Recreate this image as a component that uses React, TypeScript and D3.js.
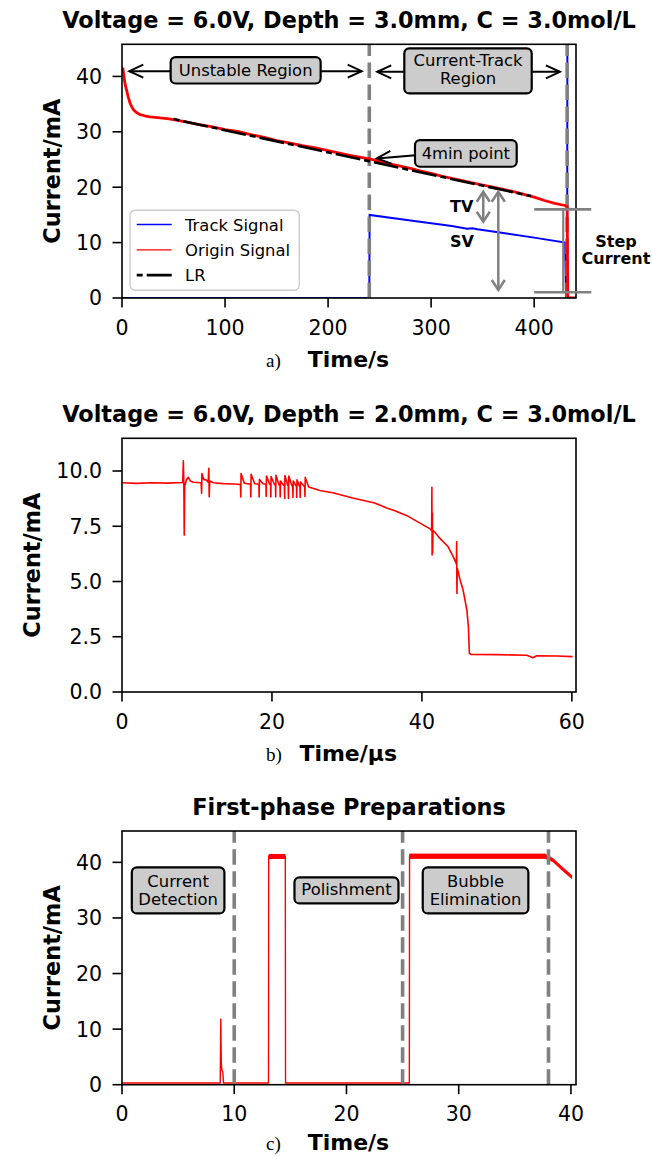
import React from 'react';
import * as d3 from 'd3';

type Pt = [number, number];
type Band = [number, number, number];

// ---------- panel a : Voltage = 6.0V, Depth = 3.0mm ----------
const aTrack: Pt[] = [
  [0, 0], [240, 0], [240.3, 15.0], [280, 14.0], [320, 13.0], [335, 12.5], [340, 12.6],
  [345, 12.4], [360, 12.0], [400, 10.9], [430, 10.0], [431, 0], [432, 0], [432.3, 60],
];
const aOrigin: Pt[] = [
  [0.8, 41.6], [1.5, 40.6], [2.5, 39.2], [3.5, 38.2], [4.5, 37.5], [6, 36.3], [7.8, 35.2],
  [9.5, 34.5], [11, 34.0], [14, 33.5], [17.5, 33.1], [22, 32.9], [27, 32.7], [32, 32.6],
  [37, 32.5], [44, 32.4], [50, 32.2], [62, 31.8], [75, 31.3], [88, 30.9], [100, 30.4],
  [112, 30.1], [125, 29.5], [138, 29.0], [150, 28.4], [162, 28.0], [175, 27.5], [188, 27.1],
  [200, 26.6], [212, 26.1], [225, 25.6], [240, 25.1], [250, 24.7], [260, 24.2], [270, 23.8],
  [280, 23.4], [290, 22.9], [300, 22.5], [310, 22.0], [320, 21.6], [330, 21.2], [340, 20.8],
  [350, 20.4], [360, 20.0], [370, 19.6], [380, 19.2], [390, 18.7], [400, 18.2], [410, 17.6],
  [420, 17.1], [430, 16.7], [432, 16.5], [432.6, 0], [441, 0],
];
const aLR: Pt[] = [[50, 32.3], [397, 18.4]];
const aMarkers = [240, 432];
const aXTicks = [0, 100, 200, 300, 400];
const aYTicks = [0, 10, 20, 30, 40];
const aLegend = ['Track Signal', 'Origin Signal', 'LR'];

// ---------- panel b : Voltage = 6.0V, Depth = 2.0mm ----------
const bSignal: Pt[] = [
  [0, 9.47], [2, 9.44], [4, 9.47], [6, 9.45], [8.1, 9.48], [8.18, 10.46], [8.25, 9.4], [8.3, 7.1],
  [8.36, 9.3], [8.6, 9.62], [8.85, 9.71], [9.1, 9.55], [9.5, 9.49], [10.55, 9.47], [10.62, 8.99],
  [10.66, 9.89], [10.9, 9.62], [11.2, 9.6], [11.5, 9.5], [11.58, 10.12], [11.63, 8.83], [11.7, 9.55],
  [12.2, 9.47], [13.5, 9.43], [15, 9.41], [15.8, 9.39], [15.84, 8.83], [15.88, 9.89], [16.3, 9.45],
  [17.15, 9.4], [17.18, 8.83], [17.22, 9.85], [17.7, 9.42], [18.26, 9.4], [18.29, 8.83], [18.33, 9.62],
  [18.8, 9.42], [19.2, 9.4], [19.23, 8.85], [19.27, 9.77], [19.7, 9.4], [19.82, 9.38], [19.85, 8.83],
  [19.88, 9.75], [20.35, 9.38], [20.47, 9.37], [20.5, 8.83], [20.53, 9.81], [20.95, 9.37], [21.07, 9.36],
  [21.1, 8.83], [21.13, 9.55], [21.55, 9.36], [21.66, 9.35], [21.7, 8.76], [21.73, 9.8], [22.1, 9.35],
  [22.17, 9.34], [22.2, 8.76], [22.24, 9.77], [22.65, 9.34], [22.77, 9.34], [22.8, 8.8], [22.84, 9.55],
  [23.2, 9.33], [23.27, 9.33], [23.3, 8.8], [23.34, 9.6], [23.65, 9.32], [23.73, 9.32], [23.76, 8.8],
  [23.8, 9.5], [24.3, 9.31], [24.37, 9.31], [24.4, 8.85], [24.44, 9.71], [24.9, 9.28], [26.4, 9.12],
  [28.1, 9.02], [30.9, 8.77], [33.7, 8.55], [35.3, 8.33], [36.4, 8.2], [38, 7.98], [39.8, 7.63],
  [41.1, 7.38], [41.3, 7.3], [41.33, 9.26], [41.36, 6.2], [41.4, 8.1], [41.43, 6.3], [41.47, 7.3],
  [41.76, 7.22], [42.4, 6.95], [43.5, 6.57], [44.2, 6.1], [44.6, 5.8], [44.63, 6.8], [44.67, 4.46],
  [44.72, 5.6], [45.1, 5.06], [45.5, 4.6], [46.0, 3.7], [46.2, 2.94], [46.33, 1.74], [46.6, 1.7],
  [50, 1.69], [54, 1.66], [54.8, 1.55], [55.3, 1.64], [58, 1.63], [60.1, 1.6],
];
const bXTicks = [0, 20, 40, 60];
const bYTicks = [0, 2.5, 5, 7.5, 10];

// ---------- panel c : First-phase Preparations ----------
const cSignal: Pt[] = [
  [0, 0.3], [6, 0.3], [8.75, 0.3], [8.8, 11.9], [8.85, 4.0], [8.9, 2.6], [8.98, 2.3], [9.05, 0.3],
  [13.05, 0.3], [13.07, 41.1], [14.55, 41.1], [14.57, 0.3], [25.6, 0.3], [25.62, 41.1], [37.7, 41.1],
  [38.4, 40.4], [39.2, 38.9], [40.06, 37.4],
];
// visible noise envelope (t, low, high) on the high plateaus
const cPolishBand: Band[] = [[13.07, 40.6, 41.5], [14.55, 40.6, 41.5]];
const cBubbleBand: Band[] = [[25.62, 40.7, 41.5], [37.7, 40.7, 41.5], [38.4, 40.1, 40.7], [39.2, 38.6, 39.2], [40.06, 37.1, 37.7]];
const cMarkers = [10, 25, 38];
const cXTicks = [0, 10, 20, 30, 40];
const cYTicks = [0, 10, 20, 30, 40];

const FONT = "'DejaVu Sans', Verdana, sans-serif";
const SERIF = "'Liberation Serif', 'DejaVu Serif', serif";
const GRAY = '#808080';
const BOXFILL = '#cccccc';
const LEFT = 122;
const RIGHT = 576;
const PH = 253.7;

type Scale = d3.ScaleLinear<number, number>;

const linePath = (x: Scale, y: Scale, pts: Pt[]) =>
  d3.line<Pt>().x(d => x(d[0])).y(d => y(d[1]))(pts) || '';

const bandPath = (x: Scale, y: Scale, pts: Band[]) =>
  d3.area<Band>().x(d => x(d[0])).y0(d => y(d[1])).y1(d => y(d[2]))(pts) || '';

function Arrow({ x1, y1, x2, y2, color = '#000', width = 2, head = 14, half = 6.5, both = false }:
  { x1: number; y1: number; x2: number; y2: number; color?: string; width?: number; head?: number; half?: number; both?: boolean }) {
  const len = Math.hypot(x2 - x1, y2 - y1);
  const ux = (x2 - x1) / len, uy = (y2 - y1) / len;
  const nx = -uy, ny = ux;
  const tip = (tx: number, ty: number, s: number) =>
    `M${tx - s * ux * head + nx * half},${ty - s * uy * head + ny * half}L${tx},${ty}L${tx - s * ux * head - nx * half},${ty - s * uy * head - ny * half}`;
  return (
    <g fill="none" stroke={color} strokeWidth={width} strokeLinejoin="miter">
      <line x1={x1} y1={y1} x2={x2} y2={y2} />
      <path d={tip(x2, y2, 1)} />
      {both && <path d={tip(x1, y1, -1)} />}
    </g>
  );
}

function Callout({ cx, cy, w, h, lines, offsets }: { cx: number; cy: number; w: number; h: number; lines: string[]; offsets: number[] }) {
  return (
    <g>
      <rect x={cx - w / 2} y={cy - h / 2} width={w} height={h} rx={5} fill={BOXFILL} stroke="#000" strokeWidth={2.2} />
      {lines.map((l, i) => (
        <text key={l} x={cx} y={cy + offsets[i]} textAnchor="middle" fontFamily={FONT} fontSize={16.4}>{l}</text>
      ))}
    </g>
  );
}

interface PanelProps {
  id: string;
  top: number;
  xDomain: [number, number];
  yDomain: [number, number];
  xTicks: number[];
  yTicks: number[];
  yFmt: (v: number) => string;
  title: string;
  tag: string;
  xLabel: string;
  xLabelStart: number;
  xLabelDy?: number;
  yLabelX: number;
  plot: (x: Scale, y: Scale) => React.ReactNode;
  overlay?: (x: Scale, y: Scale) => React.ReactNode;
}

function Panel(p: PanelProps) {
  const bottom = p.top + PH;
  const x = d3.scaleLinear().domain(p.xDomain).range([LEFT, RIGHT]);
  const y = d3.scaleLinear().domain(p.yDomain).range([bottom, p.top]);
  const labelY = bottom + (p.xLabelDy ?? 68.8);
  return (
    <g>
      <defs>
        <clipPath id={p.id}><rect x={LEFT} y={p.top} width={RIGHT - LEFT} height={PH} /></clipPath>
      </defs>
      <text x={(LEFT + RIGHT) / 2} y={p.top - 16.5} textAnchor="middle" fontFamily={FONT} fontWeight="bold" fontSize={22.4}>{p.title}</text>
      <g clipPath={`url(#${p.id})`}>{p.plot(x, y)}</g>
      <rect x={LEFT} y={p.top} width={RIGHT - LEFT} height={PH} fill="none" stroke="#000" strokeWidth={1.6} />
      {p.xTicks.map(t => (
        <g key={'x' + t}>
          <line x1={x(t)} x2={x(t)} y1={bottom} y2={bottom + 9.5} stroke="#000" strokeWidth={1.6} />
          <text x={x(t)} y={bottom + 36.7} textAnchor="middle" fontFamily={FONT} fontSize={20.5}>{t}</text>
        </g>
      ))}
      {p.yTicks.map(t => (
        <g key={'y' + t}>
          <line x1={LEFT - 9.5} x2={LEFT} y1={y(t)} y2={y(t)} stroke="#000" strokeWidth={1.6} />
          <text x={LEFT - 20} y={y(t) + 7.4} textAnchor="end" fontFamily={FONT} fontSize={20.5}>{p.yFmt(t)}</text>
        </g>
      ))}
      <text transform={`translate(${p.yLabelX},${(p.top + bottom) / 2}) rotate(-90)`} textAnchor="middle"
        fontFamily={FONT} fontWeight="bold" fontSize={22.4}>Current/mA</text>
      <text x={266} y={labelY} fontFamily={SERIF} fontSize={19}>{p.tag}</text>
      <text x={p.xLabelStart} y={labelY} fontFamily={FONT} fontWeight="bold" fontSize={22}>{p.xLabel}</text>
      {p.overlay && p.overlay(x, y)}
    </g>
  );
}

const markerLines = (x: Scale, y: Scale, ts: number[]) =>
  ts.map(t => (
    <line key={'m' + t} x1={x(t)} x2={x(t)} y1={y.range()[0]} y2={y.range()[1]}
      stroke={GRAY} strokeWidth={3.6} strokeDasharray="15.5 6.5" />
  ));

const LR_DASH = '6 4 25 4';

export default function App() {
  return (
    <svg width={652} height={1156} style={{ position: 'absolute', left: 0, top: 0, background: '#fff' }}>
      <rect width={652} height={1156} fill="#fff" />
      <Panel
        id="clipA" top={44.3} xDomain={[0, 440.6]} yDomain={[0, 45.8]}
        xTicks={aXTicks} yTicks={aYTicks} yFmt={d => String(d)}
        title="Voltage = 6.0V, Depth = 3.0mm, C = 3.0mol/L" tag="a)" xLabel="Time/s" xLabelStart={307.7} yLabelX={60}
        plot={(x, y) => (
          <>
            <path d={linePath(x, y, aTrack)} fill="none" stroke="#0000ff" strokeWidth={2} />
            {markerLines(x, y, aMarkers)}
            <path d={linePath(x, y, aOrigin)} fill="none" stroke="#ff0000" strokeWidth={2.8} strokeLinejoin="round" />
            <path d={linePath(x, y, aLR)} fill="none" stroke="#000" strokeWidth={2.6} strokeDasharray={LR_DASH} />
          </>
        )}
        overlay={(x, y) => {
          const top = y.range()[1];
          return (
            <>
              {/* legend */}
              <rect x={LEFT + 8} y={top + 166} width={169.3} height={80} rx={5} fill="#fff" fillOpacity={0.8} stroke="#cccccc" strokeWidth={1.4} />
              {aLegend.map((name, i) => {
                const ly = top + 180.2 + i * 25.3;
                return (
                  <g key={name}>
                    {i === 0 && <line x1={LEFT + 14.7} x2={LEFT + 49.7} y1={ly} y2={ly} stroke="#0000ff" strokeWidth={1.3} />}
                    {i === 1 && <line x1={LEFT + 14.7} x2={LEFT + 49.7} y1={ly} y2={ly} stroke="#ff0000" strokeWidth={1.3} />}
                    {i === 2 && <line x1={LEFT + 14.7} x2={LEFT + 49.7} y1={ly} y2={ly} stroke="#000" strokeWidth={2.6} strokeDasharray={LR_DASH} />}
                    <text x={LEFT + 63} y={ly + 6} fontFamily={FONT} fontSize={16.4}>{name}</text>
                  </g>
                );
              })}
              {/* region arrows */}
              <Arrow x1={x(7.1)} y1={y(40.95)} x2={x(232.6)} y2={y(40.95)} both />
              <Callout cx={x(120)} cy={y(41.1)} w={150} h={26.3} lines={['Unstable Region']} offsets={[5.4]} />
              <Arrow x1={x(247.7)} y1={y(40.83)} x2={x(425)} y2={y(40.83)} both />
              <Callout cx={x(335.8)} cy={y(41.0)} w={127.4} h={45} lines={['Current-Track', 'Region']} offsets={[-4.6, 13.6]} />
              <Arrow x1={x(285)} y1={y(25.75)} x2={x(247.4)} y2={y(25.2)} />
              <Callout cx={x(333.7)} cy={y(26.1)} w={101.7} h={26.7} lines={['4min point']} offsets={[5.6]} />
              {/* TV / SV */}
              <Arrow x1={x(350.6)} y1={y(19.18)} x2={x(350.6)} y2={y(13.77)} color={GRAY} width={2.5} head={10} half={6.5} both />
              <Arrow x1={x(365.2)} y1={y(19.18)} x2={x(365.2)} y2={y(1.44)} color={GRAY} width={2.5} head={10} half={6.5} both />
              <text x={x(329.6)} y={y(15.57)} textAnchor="middle" fontFamily={FONT} fontWeight="bold" fontSize={16}>TV</text>
              <text x={x(330)} y={y(9.15)} textAnchor="middle" fontFamily={FONT} fontWeight="bold" fontSize={16}>SV</text>
              {/* step current bracket */}
              <line x1={x(400.1)} x2={x(455.4)} y1={y(16.0)} y2={y(16.0)} stroke={GRAY} strokeWidth={2.6} />
              <line x1={x(400.1)} x2={x(455.4)} y1={y(1.03)} y2={y(1.03)} stroke={GRAY} strokeWidth={2.6} />
              <line x1={x(428.2)} x2={x(428.2)} y1={y(16.0)} y2={y(1.03)} stroke={GRAY} strokeWidth={2.2} />
              <text x={x(479.4)} y={y(9.25)} textAnchor="middle" fontFamily={FONT} fontWeight="bold" fontSize={16}>Step</text>
              <text x={x(479.4)} y={y(6.13)} textAnchor="middle" fontFamily={FONT} fontWeight="bold" fontSize={16}>Current</text>
            </>
          );
        }}
      />
      <Panel
        id="clipB" top={438.3} xDomain={[0, 60.55]} yDomain={[0, 11.48]}
        xTicks={bXTicks} yTicks={bYTicks} yFmt={d => d.toFixed(1)}
        title="Voltage = 6.0V, Depth = 2.0mm, C = 3.0mol/L" tag="b)" xLabel="Time/μs" xLabelStart={299.4} yLabelX={39.5}
        plot={(x, y) => (
          <path d={linePath(x, y, bSignal)} fill="none" stroke="#ff0000" strokeWidth={1.6} strokeLinejoin="round" />
        )}
      />
      <Panel
        id="clipC" top={831} xDomain={[0, 40.45]} yDomain={[0, 45.64]}
        xTicks={cXTicks} yTicks={cYTicks} yFmt={d => String(d)}
        title="First-phase Preparations" tag="c)" xLabel="Time/s" xLabelStart={307.7} xLabelDy={65.5} yLabelX={60}
        plot={(x, y) => (
          <>
            <path d={linePath(x, y, cSignal)} fill="none" stroke="#ff0000" strokeWidth={1.4} />
            <path d={bandPath(x, y, cPolishBand)} fill="#ff0000" />
            <path d={bandPath(x, y, cBubbleBand)} fill="#ff0000" stroke="#ff0000" strokeWidth={0.8} />
            {markerLines(x, y, cMarkers)}
          </>
        )}
        overlay={(x, y) => (
          <>
            <Callout cx={x(5.0)} cy={y(34.95)} w={92.6} h={46} lines={['Current', 'Detection']} offsets={[-3.8, 14.6]} />
            <Callout cx={x(20.0)} cy={y(34.95)} w={104} h={26} lines={['Polishment']} offsets={[4.8]} />
            <Callout cx={x(31.5)} cy={y(34.95)} w={105.6} h={46} lines={['Bubble', 'Elimination']} offsets={[-3.8, 14.6]} />
          </>
        )}
      />
    </svg>
  );
}
